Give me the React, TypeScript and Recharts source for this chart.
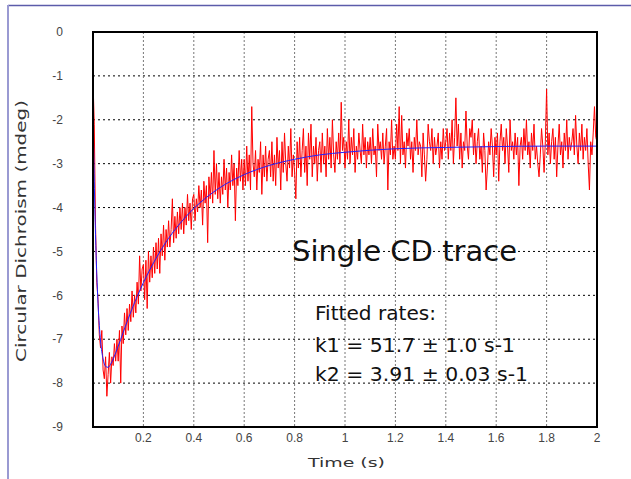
import { LineChart, Line, XAxis, YAxis, CartesianGrid } from "recharts";

// measured CD signal, one sample every 5 ms
const SAMPLE_STEP = 0.005;

const CD_SIGNAL = [
  -1.1, -2.1, -4.4, -5.7, -6.1, -6.9, -7.2, -6.8, -7.7, -7.9, -7.4, -8.3, -7.8, -7.3, -8.0, -7.4, -7.6, -7.1, -7.5, -7.0,
  -7.5, -6.8, -8.0, -6.7, -7.1, -6.4, -6.9, -6.3, -6.8, -6.2, -6.6, -5.9, -6.5, -6.0, -6.4, -5.7, -6.2, -5.1, -5.9, -5.4,
  -5.3, -6.1, -5.2, -6.3, -5.0, -5.7, -5.1, -5.6, -4.9, -5.5, -4.8, -5.4, -4.7, -5.5, -4.6, -5.1, -4.4, -5.2, -4.5, -4.9,
  -4.3, -4.9, -4.5, -3.8, -4.8, -4.2, -4.7, -4.1, -4.6, -4.0, -4.5, -3.9, -4.6, -4.0, -4.4, -3.7, -4.3, -3.9, -4.5, -3.8,
  -3.7, -4.3, -3.8, -4.1, -3.5, -4.0, -3.6, -4.4, -3.4, -3.9, -3.5, -4.8, -3.3, -3.8, -3.2, -3.9, -2.7, -3.7, -3.0, -3.8,
  -3.2, -3.9, -3.3, -3.7, -2.9, -3.6, -3.1, -4.0, -3.2, -3.6, -2.8, -3.5, -3.0, -4.3, -3.1, -3.5, -2.7, -3.4, -2.9, -3.6,
  -2.9, -3.5, -2.6, -3.4, -2.8, -3.6, -1.7, -3.0, -3.3, -2.7, -3.6, -2.9, -3.2, -2.5, -3.7, -2.8, -3.3, -2.6, -3.4, -2.9,
  -2.7, -3.3, -2.5, -3.4, -2.8, -3.5, -2.4, -3.1, -2.7, -3.6, -2.5, -3.2, -2.3, -3.0, -3.4, -2.6, -3.1, -2.2, -3.3, -2.8,
  -3.2, -3.8, -2.5, -3.1, -2.4, -3.3, -2.7, -2.2, -3.2, -2.6, -3.5, -2.3, -2.9, -2.1, -3.3, -2.6, -3.0, -2.4, -3.4, -2.7,
  -2.5, -3.2, -2.3, -3.0, -2.6, -3.3, -2.2, -2.9, -2.4, -3.1, -2.0, -2.8, -3.2, -2.5, -2.9, -2.3, -3.0, -1.6, -2.7, -2.4,
  -3.1, -2.5, -2.9, -2.0, -3.0, -2.4, -2.8, -2.2, -3.2, -2.6, -2.9, -2.3, -2.7, -3.0, -2.1, -2.8, -2.4, -3.1, -2.5, -2.8,
  -2.4, -3.0, -2.2, -2.8, -2.6, -3.3, -2.1, -2.7, -2.5, -2.9, -2.3, -3.0, -2.6, -2.2, -3.6, -2.5, -2.8, -2.0, -2.9, -2.6,
  -2.9, -2.1, -2.7, -1.7, -3.0, -1.9, -2.8, -2.5, -3.1, -2.3, -2.6, -2.2, -2.9, -2.5, -3.2, -2.4, -2.7, -2.0, -2.8, -2.5,
  -2.6, -3.3, -2.3, -2.8, -3.4, -2.9, -2.1, -2.5, -2.7, -2.2, -3.0, -2.4, -2.8, -2.6, -2.3, -3.1, -2.5, -2.9, -2.2, -2.7,
  -2.5, -2.2, -2.9, -2.3, -2.7, -2.0, -3.0, -2.4, -1.5, -2.6, -2.1, -2.9, -2.3, -3.1, -2.5, -2.7, -1.8, -2.6, -2.9, -2.2,
  -2.4, -2.0, -2.8, -2.3, -3.0, -2.5, -2.2, -2.9, -2.6, -3.2, -2.3, -2.7, -3.6, -3.1, -2.5, -2.8, -2.2, -2.6, -3.3, -2.4,
  -2.8, -2.3, -3.4, -2.5, -2.1, -2.7, -2.4, -3.0, -2.2, -2.6, -3.2, -2.0, -2.7, -2.5, -2.9, -2.3, -2.8, -2.4, -3.5, -2.6,
  -2.4, -2.9, -2.2, -2.7, -2.0, -2.8, -2.5, -3.1, -2.3, -2.7, -2.1, -2.9, -2.6, -3.0, -3.3, -2.8, -2.2, -2.6, -3.2, -2.5,
  -1.3, -2.8, -2.3, -3.0, -2.5, -2.2, -2.9, -2.4, -3.3, -2.6, -2.1, -2.8, -2.5, -3.1, -2.3, -2.7, -2.0, -2.9, -2.4, -2.7,
  -2.5, -2.2, -2.8, -1.9, -2.6, -3.0, -2.3, -2.7, -2.1, -2.9, -2.4, -2.7, -2.2, -3.0, -3.6, -2.5, -2.8, -2.3, -1.7, -2.4,
  -2.5,
];

// fitted double exponential (blue)
const FIT_TIMES = [
  0, 0.005, 0.01, 0.015, 0.02, 0.03, 0.04, 0.05, 0.06, 0.07, 0.08, 0.1, 0.12, 0.15, 0.2, 0.25,
  0.3, 0.35, 0.4, 0.45, 0.5, 0.6, 0.7, 0.8, 0.9, 1.0, 1.2, 1.4, 1.6, 1.8, 2.0,
];
const FIT_VALUES = [
  -1.8, -3.4, -4.61, -5.51, -6.19, -7.04, -7.45, -7.62, -7.64, -7.57, -7.45, -7.16, -6.84, -6.38, -5.71, -5.16,
  -4.7, -4.33, -4.02, -3.77, -3.56, -3.25, -3.04, -2.9, -2.8, -2.74, -2.66, -2.63, -2.61, -2.6, -2.6,
];

const X_TICKS = [0.2, 0.4, 0.6, 0.8, 1, 1.2, 1.4, 1.6, 1.8, 2];
const Y_TICKS = [0, -1, -2, -3, -4, -5, -6, -7, -8, -9];

const traceData = CD_SIGNAL.map((v, i) => ({ t: Math.round(i * SAMPLE_STEP * 1000) / 1000, v }));
const fitData = FIT_TIMES.map((t, i) => ({ t, v: FIT_VALUES[i] }));

const tickStyle = { fontFamily: "'Liberation Sans', Arial, sans-serif", fontSize: 12, fill: "#444" };
const textFont = "'DejaVu Sans', Verdana, sans-serif";

export default function App() {
  return (
    <div style={{ position: "absolute", left: 0, top: 0, width: 631, height: 479, background: "#fff" }}>
      <LineChart width={631} height={479} margin={{ top: 32, right: 34, bottom: 22, left: 33 }}>
        <CartesianGrid vertical={false} stroke="#000" strokeDasharray="2 3" />
        <CartesianGrid horizontal={false} stroke="#777" strokeDasharray="2 2" />
        <XAxis
          dataKey="t"
          type="number"
          domain={[0, 2]}
          ticks={X_TICKS}
          allowDataOverflow
          axisLine={false}
          tickLine={false}
          tickSize={0}
          tickMargin={6}
          height={30}
          tick={tickStyle}
        />
        <YAxis
          type="number"
          domain={[-9, 0]}
          ticks={Y_TICKS}
          allowDataOverflow
          axisLine={false}
          tickLine={false}
          tickSize={0}
          tickMargin={30}
          width={60}
          tick={tickStyle}
        />
        <Line
          data={traceData}
          dataKey="v"
          type="linear"
          stroke="#ff0000"
          strokeWidth={1}
          dot={false}
          isAnimationActive={false}
        />
        <Line
          data={fitData}
          dataKey="v"
          type="monotone"
          stroke="#2020ff"
          strokeWidth={1}
          dot={false}
          isAnimationActive={false}
        />
      </LineChart>

      <svg
        width={631}
        height={479}
        style={{ position: "absolute", left: 0, top: 0, pointerEvents: "none" }}
      >
        {/* page frame */}
        <line x1={8} y1={5.5} x2={631} y2={5.5} stroke="#5c5caa" strokeWidth={1.5} />
        <line x1={8} y1={5} x2={8} y2={479} stroke="#9a9ad2" strokeWidth={2} />
        {/* plot border */}
        <rect x={93} y={32} width={504} height={395} fill="none" stroke="#000" strokeWidth={2} />

        <text x={292} y={261} fontFamily={textFont} fontSize={29} fill="#111" textLength={225} lengthAdjust="spacingAndGlyphs">
          Single CD trace
        </text>
        <text x={315} y={320} fontFamily={textFont} fontSize={20} fill="#111" textLength={121} lengthAdjust="spacingAndGlyphs">
          Fitted rates:
        </text>
        <text x={315} y={351.5} fontFamily={textFont} fontSize={20} fill="#111" textLength={200} lengthAdjust="spacingAndGlyphs">
          k1 = 51.7 ± 1.0 s-1
        </text>
        <text x={315} y={380.5} fontFamily={textFont} fontSize={20} fill="#111" textLength={213} lengthAdjust="spacingAndGlyphs">
          k2 = 3.91 ± 0.03 s-1
        </text>

        <text x={308} y={467} fontFamily={textFont} fontSize={13} fill="#333" textLength={77} lengthAdjust="spacingAndGlyphs">
          Time (s)
        </text>
        <text
          x={0}
          y={0}
          transform="translate(25.5 231) rotate(-90)"
          textAnchor="middle"
          fontFamily={textFont}
          fontSize={14}
          fill="#333"
          textLength={262}
          lengthAdjust="spacingAndGlyphs"
        >
          Circular Dichroism (mdeg)
        </text>
      </svg>
    </div>
  );
}
